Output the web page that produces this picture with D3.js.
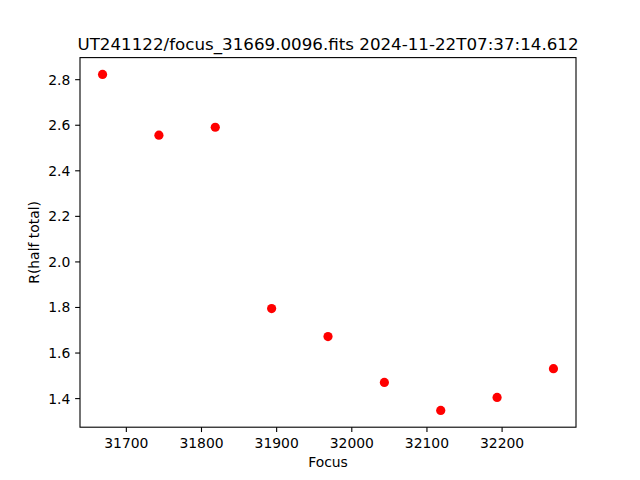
<!DOCTYPE html>
<html>
<head>
<meta charset="utf-8">
<script src="https://cdn.jsdelivr.net/npm/d3@7"></script>
<style>
  html, body { margin: 0; padding: 0; background: #fff; }
  svg { display: block; font-family: "DejaVu Sans", sans-serif; }
</style>
</head>
<body>
<svg id="chart" width="640" height="480"></svg>
<script>
const titleText = "UT241122/focus_31669.0096.fits 2024-11-22T07:37:14.612";
const xLabel = "Focus";
const yLabel = "R(half total)";
const focusValues = [31669, 31744, 31819, 31894, 31969, 32044, 32119, 32194, 32269];
const radiusValues = [2.821, 2.554, 2.589, 1.793, 1.670, 1.469, 1.346, 1.403, 1.529];
const xTicks = [31700, 31800, 31900, 32000, 32100, 32200];
const yTicks = [1.4, 1.6, 1.8, 2.0, 2.2, 2.4, 2.6, 2.8];

const W = 640, H = 480;
const m = { left: 80, right: 576, top: 57.6, bottom: 427.2 };
const svg = d3.select("#chart");
svg.append("rect").attr("width", W).attr("height", H).attr("fill", "#fff");

function padded(ext) {
  const r = ext[1] - ext[0];
  return [ext[0] - 0.05 * r, ext[1] + 0.05 * r];
}
const x = d3.scaleLinear().domain(padded(d3.extent(focusValues))).range([m.left, m.right]);
const y = d3.scaleLinear().domain(padded(d3.extent(radiusValues))).range([m.bottom, m.top]);

const tickLen = 4.86, pad = 4.86;
const fs = "13.9px";

// x axis
const xAxis = d3.axisBottom(x).tickValues(xTicks).tickSize(tickLen).tickPadding(pad).tickFormat(d3.format("d"));
const gx = svg.append("g").attr("transform", `translate(0,${m.bottom})`).call(xAxis);
gx.select(".domain").remove();
gx.selectAll(".tick line").attr("stroke", "#000").attr("stroke-width", 1.1);
gx.selectAll(".tick text").attr("fill", "#000").attr("font-size", fs)
  .attr("font-family", "DejaVu Sans, sans-serif").attr("dy", null).attr("y", 20.8);

// y axis
const yAxis = d3.axisLeft(y).tickValues(yTicks).tickSize(tickLen).tickPadding(pad).tickFormat(d3.format(".1f"));
const gy = svg.append("g").attr("transform", `translate(${m.left},0)`).call(yAxis);
gy.select(".domain").remove();
gy.selectAll(".tick line").attr("stroke", "#000").attr("stroke-width", 1.1);
gy.selectAll(".tick text").attr("fill", "#000").attr("font-size", fs)
  .attr("font-family", "DejaVu Sans, sans-serif").attr("dy", "0.36em");

// points
svg.append("g").selectAll("circle")
  .data(focusValues.map((f, i) => ({ f, r: radiusValues[i] })))
  .join("circle")
  .attr("cx", d => x(d.f))
  .attr("cy", d => y(d.r))
  .attr("r", 4.6)
  .attr("fill", "#ff0000");

// frame
svg.append("rect")
  .attr("x", m.left).attr("y", m.top)
  .attr("width", m.right - m.left).attr("height", m.bottom - m.top)
  .attr("fill", "none").attr("stroke", "#000").attr("stroke-width", 1.1);

// labels
svg.append("text").attr("x", (m.left + m.right) / 2).attr("y", 466.5)
  .attr("text-anchor", "middle").attr("font-size", fs).attr("fill", "#000").text(xLabel);
svg.append("text")
  .attr("transform", `translate(38.5,${(m.top + m.bottom) / 2}) rotate(-90)`)
  .attr("text-anchor", "middle").attr("font-size", fs).attr("fill", "#000").text(yLabel);
svg.append("text").attr("x", (m.left + m.right) / 2).attr("y", 49.8)
  .attr("text-anchor", "middle").attr("font-size", "16.7px").attr("fill", "#000").text(titleText);
</script>
</body>
</html>
